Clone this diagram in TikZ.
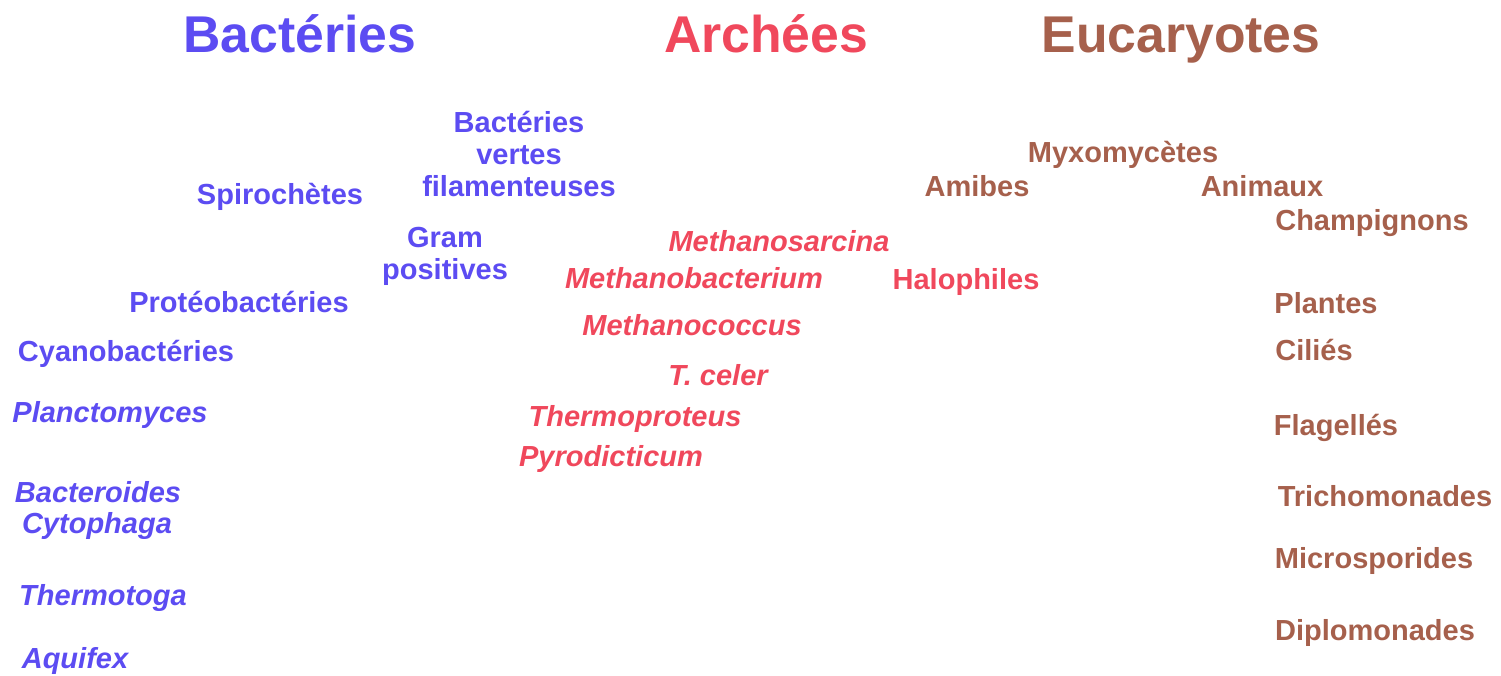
\documentclass[tikz,border=0pt]{standalone}
\usepackage{fontspec}
\setmainfont{Liberation Sans}
\definecolor{bact}{RGB}{92,76,242}
\definecolor{arch}{RGB}{240,72,92}
\definecolor{euk}{RGB}{166,96,76}
\begin{document}
\begin{tikzpicture}[x=0.01cm,y=-0.01cm,
  title/.style={font=\fontsize{14.7}{16}\selectfont\bfseries, inner sep=0pt, anchor=base},
  lab/.style={font=\fontsize{8.25}{9.1}\selectfont\bfseries, inner sep=0pt, anchor=base, align=center},
  ital/.style={lab, font=\fontsize{8.25}{9.1}\selectfont\bfseries\itshape},
  bac/.style={text=bact}, arc/.style={text=arch}, eu/.style={text=euk}]
\useasboundingbox (0,0) rectangle (1501,675);
% titles
\node[title,bac] (tb) at (300,52) {Bactéries};
\node[title,arc] (ta) at (766,52) {Archées};
\node[title,eu]  (te) at (1181,52) {Eucaryotes};
% bacteria
\node[lab,bac,anchor=north] (bvf) at (519,111) {Bactéries\\vertes\\filamenteuses};
\node[lab,bac] (spi) at (280,204) {Spirochètes};
\node[lab,bac,anchor=north] (gram) at (445,227) {Gram\\positives};
\node[lab,bac] (pro) at (239,312) {Protéobactéries};
\node[lab,bac] (cya) at (126,361) {Cyanobactéries};
\node[ital,bac] (pla) at (110,422) {Planctomyces};
\node[ital,bac] (bcd) at (98,502) {Bacteroides};
\node[ital,bac] (cyt) at (97,533) {Cytophaga};
\node[ital,bac] (tht) at (103,605) {Thermotoga};
\node[ital,bac] (aqu) at (75,668) {Aquifex};
% archaea
\node[ital,arc] (msa) at (779,251) {Methanosarcina};
\node[ital,arc] (mba) at (694,288) {Methanobacterium};
\node[ital,arc] (mco) at (692,335) {Methanococcus};
\node[ital,arc] (tce) at (718,385) {T. celer};
\node[ital,arc] (thp) at (635,426) {Thermoproteus};
\node[ital,arc] (pyr) at (611,466) {Pyrodicticum};
\node[lab,arc] (hal) at (966,289) {Halophiles};
% eukaryotes
\node[lab,eu] (myx) at (1123,162) {Myxomycètes};
\node[lab,eu] (ami) at (977,196) {Amibes};
\node[lab,eu] (ani) at (1262,196) {Animaux};
\node[lab,eu] (cha) at (1372,230) {Champignons};
\node[lab,eu] (pla2) at (1326,313) {Plantes};
\node[lab,eu] (cil) at (1314,360) {Ciliés};
\node[lab,eu] (fla) at (1336,435) {Flagellés};
\node[lab,eu] (tri) at (1385,506) {Trichomonades};
\node[lab,eu] (mic) at (1374,568) {Microsporides};
\node[lab,eu] (dip) at (1375,640) {Diplomonades};
\end{tikzpicture}
\end{document}
